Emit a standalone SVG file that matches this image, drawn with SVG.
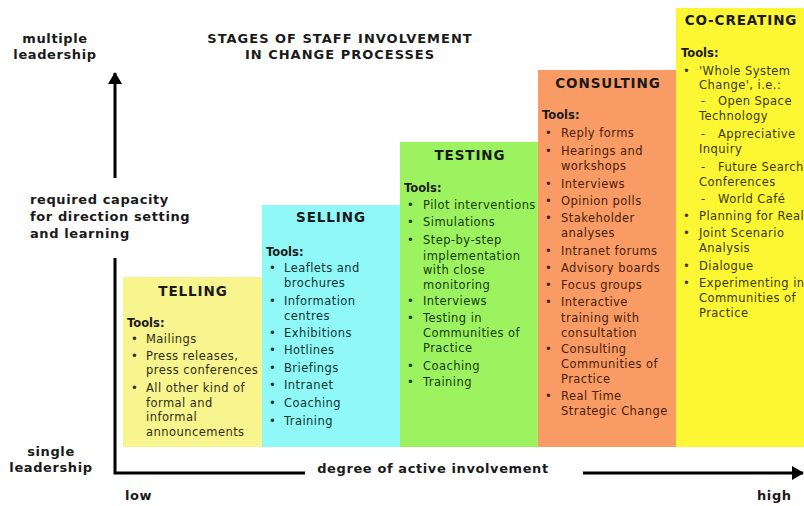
<svg xmlns="http://www.w3.org/2000/svg" width="804" height="506" viewBox="0 0 804 506">
<style>
text{font-family:"DejaVu Sans","Verdana",sans-serif;}
.lbl{font-size:13px;font-weight:bold;fill:#1a1a1a;letter-spacing:0.6px;}
.ttl{font-size:13px;font-weight:bold;fill:#1a1a1a;letter-spacing:1px;}
.hd{font-size:13.5px;font-weight:bold;fill:#1a1a1a;letter-spacing:0.9px;text-anchor:middle;}
.tools{font-size:11.5px;font-weight:bold;fill:#1a1a1a;}
.b{font-size:11.5px;letter-spacing:0.45px;}
.axis{stroke:#000;stroke-width:3;fill:none;}
</style>
<defs>
<marker id="ah" viewBox="0 0 12 14" refX="11" refY="7" markerWidth="12" markerHeight="14" markerUnits="userSpaceOnUse" orient="auto">
<path d="M0,0 L12,7 L0,14 Z" fill="#000"/>
</marker>
</defs>
<rect width="804" height="506" fill="#fff"/>
<g id="labels">
<text class="ttl" x="340" y="43" text-anchor="middle">STAGES OF STAFF INVOLVEMENT</text>
<text class="ttl" x="340" y="59" text-anchor="middle">IN CHANGE PROCESSES</text>
<text class="lbl" x="55" y="43" text-anchor="middle">multiple</text>
<text class="lbl" x="55" y="59" text-anchor="middle">leadership</text>
<text class="lbl" x="30" y="204">required capacity</text>
<text class="lbl" x="30" y="221">for direction setting</text>
<text class="lbl" x="30" y="238">and learning</text>
<text class="lbl" x="51" y="456" text-anchor="middle">single</text>
<text class="lbl" x="51" y="472" text-anchor="middle">leadership</text>
<text class="lbl" x="433" y="473" text-anchor="middle">degree of active involvement</text>
<text class="lbl" x="125" y="500">low</text>
<text class="lbl" x="757" y="500">high</text>
</g>
<g id="telling">
<rect x="123" y="277" width="139" height="170" fill="#f8f48e"/>
<text class="hd" x="193" y="296">TELLING</text>
<text class="tools" x="127" y="327">Tools:</text>
<g class="b" fill="#2e2e10">
<text x="131" y="343">•</text><text x="146" y="343">Mailings</text>
<text x="131" y="360">•</text><text x="146" y="360">Press releases,</text>
<text x="146" y="374">press conferences</text>
<text x="131" y="392">•</text><text x="146" y="392">All other kind of</text>
<text x="146" y="407">formal and</text>
<text x="146" y="421">informal</text>
<text x="146" y="436">announcements</text>
</g>
</g>
<g id="selling">
<rect x="262" y="205" width="138" height="242" fill="#90f9f8"/>
<text class="hd" x="331" y="222">SELLING</text>
<text class="tools" x="266" y="256">Tools:</text>
<g class="b" fill="#0c3434">
<text x="269" y="272">•</text><text x="284" y="272">Leaflets and</text>
<text x="284" y="287">brochures</text>
<text x="269" y="305">•</text><text x="284" y="305">Information</text>
<text x="284" y="320">centres</text>
<text x="269" y="337">•</text><text x="284" y="337">Exhibitions</text>
<text x="269" y="354">•</text><text x="284" y="354">Hotlines</text>
<text x="269" y="372">•</text><text x="284" y="372">Briefings</text>
<text x="269" y="389">•</text><text x="284" y="389">Intranet</text>
<text x="269" y="407">•</text><text x="284" y="407">Coaching</text>
<text x="269" y="425">•</text><text x="284" y="425">Training</text>
</g>
</g>
<g id="testing">
<rect x="400" y="142" width="138" height="305" fill="#9cf35f"/>
<text class="hd" x="470" y="160">TESTING</text>
<text class="tools" x="404" y="192">Tools:</text>
<g class="b" fill="#143a08">
<text x="407" y="209">•</text><text x="423" y="209">Pilot interventions</text>
<text x="407" y="226">•</text><text x="423" y="226">Simulations</text>
<text x="407" y="244">•</text><text x="423" y="244">Step-by-step</text>
<text x="423" y="260">implementation</text>
<text x="423" y="274">with close</text>
<text x="423" y="289">monitoring</text>
<text x="407" y="305">•</text><text x="423" y="305">Interviews</text>
<text x="407" y="322">•</text><text x="423" y="322">Testing in</text>
<text x="423" y="337">Communities of</text>
<text x="423" y="352">Practice</text>
<text x="407" y="370">•</text><text x="423" y="370">Coaching</text>
<text x="407" y="386">•</text><text x="423" y="386">Training</text>
</g>
</g>
<g id="consulting">
<rect x="538" y="70" width="138" height="377" fill="#f99b64"/>
<text class="hd" x="608" y="88">CONSULTING</text>
<text class="tools" x="542" y="119">Tools:</text>
<g class="b" fill="#4a200a">
<text x="545" y="137">•</text><text x="561" y="137">Reply forms</text>
<text x="545" y="155">•</text><text x="561" y="155">Hearings and</text>
<text x="561" y="170">workshops</text>
<text x="545" y="188">•</text><text x="561" y="188">Interviews</text>
<text x="545" y="205">•</text><text x="561" y="205">Opinion polls</text>
<text x="545" y="222">•</text><text x="561" y="222">Stakeholder</text>
<text x="561" y="237">analyses</text>
<text x="545" y="255">•</text><text x="561" y="255">Intranet forums</text>
<text x="545" y="272">•</text><text x="561" y="272">Advisory boards</text>
<text x="545" y="289">•</text><text x="561" y="289">Focus groups</text>
<text x="545" y="306">•</text><text x="561" y="306">Interactive</text>
<text x="561" y="322">training with</text>
<text x="561" y="337">consultation</text>
<text x="545" y="353">•</text><text x="561" y="353">Consulting</text>
<text x="561" y="368">Communities of</text>
<text x="561" y="383">Practice</text>
<text x="545" y="400">•</text><text x="561" y="400">Real Time</text>
<text x="561" y="415">Strategic Change</text>
</g>
</g>
<g id="cocreating">
<rect x="676" y="8" width="128" height="439" fill="#fdf632"/>
<text class="hd" x="741" y="25">CO-CREATING</text>
<text class="tools" x="681" y="57">Tools:</text>
<g class="b" fill="#3a3a08">
<text x="683" y="75">•</text><text x="699" y="75">'Whole System</text>
<text x="699" y="89">Change', i.e.:</text>
<text x="701" y="105">-</text><text x="718" y="105">Open Space</text>
<text x="699" y="120">Technology</text>
<text x="701" y="138">-</text><text x="718" y="138">Appreciative</text>
<text x="699" y="153">Inquiry</text>
<text x="701" y="171">-</text><text x="718" y="171">Future Search</text>
<text x="699" y="186">Conferences</text>
<text x="701" y="203">-</text><text x="718" y="203">World Café</text>
<text x="683" y="220">•</text><text x="699" y="220">Planning for Real</text>
<text x="683" y="237">•</text><text x="699" y="237">Joint Scenario</text>
<text x="699" y="252">Analysis</text>
<text x="683" y="270">•</text><text x="699" y="270">Dialogue</text>
<text x="683" y="287">•</text><text x="699" y="287">Experimenting in</text>
<text x="699" y="302">Communities of</text>
<text x="699" y="317">Practice</text>
</g>
</g>
<g id="connectors">
<path class="axis" d="M115,178 L115,73" marker-end="url(#ah)"/>
<path class="axis" d="M115,258 L115,473 L305,473"/>
<path class="axis" d="M583,473 L803,473" marker-end="url(#ah)"/>
</g>
</svg>
